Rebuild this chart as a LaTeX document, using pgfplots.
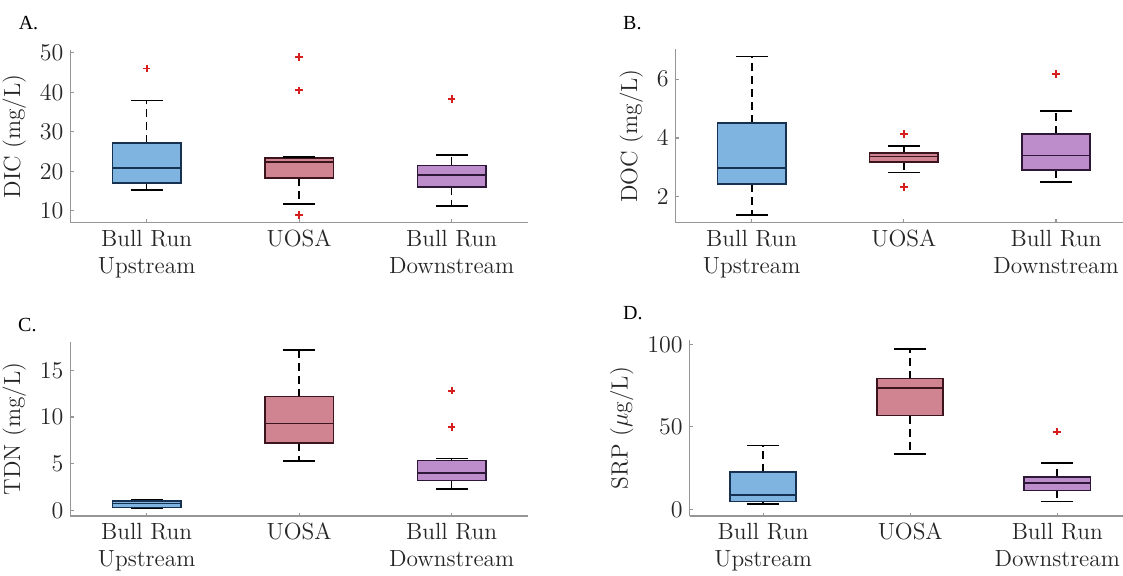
\documentclass[border=0pt]{standalone}
\usepackage{pgfplots}
\pgfplotsset{compat=1.18}
\usepgfplotslibrary{statistics}
\usepackage{fontspec}
\newfontfamily\panelfont{Liberation Serif}

\definecolor{upfill}{RGB}{126,180,223}
\definecolor{upedge}{RGB}{22,50,80}
\definecolor{uofill}{RGB}{208,132,145}
\definecolor{uoedge}{RGB}{60,20,30}
\definecolor{dnfill}{RGB}{188,141,202}
\definecolor{dnedge}{RGB}{45,25,55}
\definecolor{axgray}{RGB}{150,150,150}
\definecolor{txt}{RGB}{38,38,38}
\definecolor{outred}{RGB}{215,30,30}

\pgfplotsset{
  panel/.style={
    scale only axis, anchor=south west,
    axis x line=bottom, axis y line=left,
    axis line style={-, draw=axgray, line width=0.6pt},
    xmin=0.5, xtick={1,2,3},
    xticklabels={{Bull Run\\Upstream},UOSA,{Bull Run\\Downstream}},
    xticklabel style={align=center, font=\fontsize{11.7}{13.8}\selectfont, text=txt},
    yticklabel style={font=\fontsize{11.7}{14}\selectfont, text=txt},
    ylabel style={font=\fontsize{11.7}{14}\selectfont, text=txt},
    tick style={draw=axgray, line width=0.6pt},
    major tick length=1.7pt,
    tick align=inside,
    clip=false,
    boxplot/draw direction=y,
    boxplot/box extend=0.45,
    boxplot/whisker extend=0,
    boxplot/every whisker/.style={black, line width=0.8pt, dash pattern=on 4pt off 2.5pt},
  },
  upbox/.style={boxplot/every box/.style={draw=upedge, fill=upfill, line width=0.8pt},
                boxplot/every median/.style={draw=upedge, line width=0.8pt}},
  uobox/.style={boxplot/every box/.style={draw=uoedge, fill=uofill, line width=0.8pt},
                boxplot/every median/.style={draw=uoedge, line width=0.8pt}},
  dnbox/.style={boxplot/every box/.style={draw=dnedge, fill=dnfill, line width=0.8pt},
                boxplot/every median/.style={draw=dnedge, line width=0.8pt}},
  caps/.style={only marks, mark=-, mark size=8pt, black, line width=0.8pt, mark options={solid}},
  outl/.style={only marks, mark=+, mark size=1.9pt, draw=outred, line width=0.9pt},
}

\begin{document}
\begin{tikzpicture}
\path[use as bounding box] (0,0) rectangle (561.5pt,287.5pt);

% ---------------- A: DIC ----------------
\begin{axis}[panel, at={(35.2pt,176.15pt)}, width=228.75pt, height=86.35pt,
  xmax=3.5, ymin=7, ymax=50.7, ytick={10,20,30,40,50}, ylabel={DIC (mg/L)}]
\addplot[upbox, boxplot prepared={draw position=1, lower whisker=15.3, lower quartile=17.1, median=20.8, upper quartile=27.1, upper whisker=37.9}] coordinates {};
\addplot[uobox, boxplot prepared={draw position=2, lower whisker=11.8, lower quartile=18.3, median=22.3, upper quartile=23.3, upper whisker=23.6}] coordinates {};
\addplot[dnbox, boxplot prepared={draw position=3, lower whisker=11.2, lower quartile=16.1, median=19.1, upper quartile=21.5, upper whisker=24.2}] coordinates {};
\addplot[caps] coordinates {(1,15.3) (1,37.9) (2,11.8) (2,23.6) (3,11.2) (3,24.2)};
\addplot[outl] coordinates {(1,46.0) (2,49.0) (2,40.5) (2,9.0) (3,38.3)};
\end{axis}

% ---------------- B: DOC ----------------
\begin{axis}[panel, at={(337.8pt,176.15pt)}, width=223.7pt, height=86.7pt,
  xmax=3.44, ymin=1.11, ymax=7.02, ytick={2,4,6}, ylabel={DOC (mg/L)}]
\addplot[upbox, boxplot prepared={draw position=1, lower whisker=1.375, lower quartile=2.42, median=2.97, upper quartile=4.5, upper whisker=6.78}] coordinates {};
\addplot[uobox, boxplot prepared={draw position=2, lower whisker=2.82, lower quartile=3.18, median=3.36, upper quartile=3.49, upper whisker=3.73}] coordinates {};
\addplot[dnbox, boxplot prepared={draw position=3, lower whisker=2.49, lower quartile=2.90, median=3.40, upper quartile=4.14, upper whisker=4.92}] coordinates {};
\addplot[caps] coordinates {(1,1.375) (1,6.78) (2,2.82) (2,3.73) (3,2.49) (3,4.92)};
\addplot[outl] coordinates {(2,4.14) (2,2.33) (3,6.18)};
\end{axis}

% ---------------- C: TDN ----------------
\begin{axis}[panel, at={(35.2pt,29.5pt)}, width=228.75pt, height=87.15pt,
  xmax=3.5, ymin=-0.61, ymax=18.07, ytick={0,5,10,15}, ylabel={TDN (mg/L)}]
\addplot[upbox, boxplot prepared={draw position=1, lower whisker=0.18, lower quartile=0.32, median=0.75, upper quartile=1.0, upper whisker=1.14}] coordinates {};
\addplot[uobox, boxplot prepared={draw position=2, lower whisker=5.29, lower quartile=7.21, median=9.32, upper quartile=12.18, upper whisker=17.2}] coordinates {};
\addplot[dnbox, boxplot prepared={draw position=3, lower whisker=2.29, lower quartile=3.18, median=4.0, upper quartile=5.36, upper whisker=5.54}] coordinates {};
\addplot[caps] coordinates {(1,0.18) (1,1.14) (2,5.29) (2,17.2) (3,2.29) (3,5.54)};
\addplot[outl] coordinates {(3,12.82) (3,8.93)};
\end{axis}

% ---------------- D: SRP ----------------
\begin{axis}[panel, at={(344.8pt,29.5pt)}, width=216.7pt, height=88pt,
  xmax=3.447, ymin=-4, ymax=102.6, ytick={0,50,100}, ylabel={SRP ($\mu$g/L)}]
\addplot[upbox, boxplot prepared={draw position=1, lower whisker=3.4, lower quartile=4.85, median=8.9, upper quartile=22.6, upper whisker=38.6}] coordinates {};
\addplot[uobox, boxplot prepared={draw position=2, lower whisker=33.5, lower quartile=56.8, median=73.7, upper quartile=79.2, upper whisker=97.0}] coordinates {};
\addplot[dnbox, boxplot prepared={draw position=3, lower whisker=4.85, lower quartile=11.5, median=16.0, upper quartile=19.6, upper whisker=28.1}] coordinates {};
\addplot[caps] coordinates {(1,3.4) (1,38.6) (2,33.5) (2,97.0) (3,4.85) (3,28.1)};
\addplot[outl] coordinates {(3,47.1)};
\end{axis}

% panel letters
\node[anchor=base west, font=\panelfont\fontsize{10}{12}\selectfont, inner sep=0pt] at (9.2pt,272.9pt) {A.};
\node[anchor=base west, font=\panelfont\fontsize{10}{12}\selectfont, inner sep=0pt] at (311.4pt,272.9pt) {B.};
\node[anchor=base west, font=\panelfont\fontsize{10}{12}\selectfont, inner sep=0pt] at (8.9pt,121.7pt) {C.};
\node[anchor=base west, font=\panelfont\fontsize{10}{12}\selectfont, inner sep=0pt] at (311.4pt,127.8pt) {D.};
\end{tikzpicture}
\end{document}
